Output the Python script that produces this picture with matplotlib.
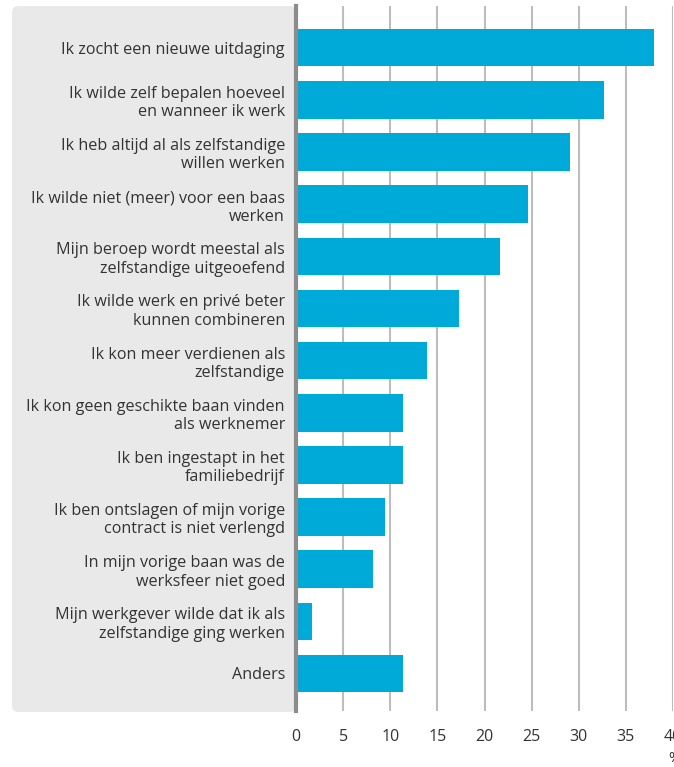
import matplotlib
matplotlib.use('Agg')
import matplotlib.pyplot as plt
from matplotlib.patches import FancyBboxPatch
import numpy as np

# redenen om zelfstandige te worden (%)
redenen = [
    "Ik zocht een nieuwe uitdaging",
    "Ik wilde zelf bepalen hoeveel\nen wanneer ik werk",
    "Ik heb altijd al als zelfstandige\nwillen werken",
    "Ik wilde niet (meer) voor een baas\nwerken",
    "Mijn beroep wordt meestal als\nzelfstandige uitgeoefend",
    "Ik wilde werk en privé beter\nkunnen combineren",
    "Ik kon meer verdienen als\nzelfstandige",
    "Ik kon geen geschikte baan vinden\nals werknemer",
    "Ik ben ingestapt in het\nfamiliebedrijf",
    "Ik ben ontslagen of mijn vorige\ncontract is niet verlengd",
    "In mijn vorige baan was de\nwerksfeer niet goed",
    "Mijn werkgever wilde dat ik als\nzelfstandige ging werken",
    "Anders",
]
waarden = [38.0, 32.7, 29.1, 24.6, 21.6, 17.3, 13.9, 11.4, 11.3, 9.4, 8.2, 1.7, 11.3]
ticks = [0, 5, 10, 15, 20, 25, 30, 35, 40]

plt.rcParams['font.family'] = ['Open Sans', 'DejaVu Sans']

fig = plt.figure(figsize=(6.74, 7.67), dpi=100)
W, H = 674, 767

# grijs vlak achter de labels
paneel = FancyBboxPatch((12 / W, 1 - 712 / H), (296 - 12) / W, (712 - 6) / H,
                        boxstyle="round,pad=0,rounding_size=0.009",
                        transform=fig.transFigure, facecolor='#e9e9e9',
                        edgecolor='none', zorder=-5)
fig.patches.append(paneel)

ax = fig.add_axes([296 / W, 1 - 711 / H, (673 - 296) / W, (711 - 6) / H])
ax.set_facecolor('white')

y = np.arange(len(redenen))
ax.barh(y, waarden, height=0.72, color='#00aad8', zorder=3)
ax.set_xlim(0, 40)
ax.set_ylim(12.72, -0.8)
ax.set_xticks(ticks)
ax.set_xticklabels([str(t) for t in ticks], fontsize=11.5, color='#333333')
ax.set_yticks(y)
ax.set_yticklabels(redenen, fontsize=11.6, color='#333333', linespacing=1.2)
ax.tick_params(axis='both', length=0)
ax.tick_params(axis='y', pad=8)
ax.tick_params(axis='x', pad=13)

ax.grid(axis='x', color='#bdbdbd', linewidth=1.5, zorder=1)
for s in ['top', 'right', 'bottom']:
    ax.spines[s].set_visible(False)
ax.spines['left'].set_color('#8c8c8c')
ax.spines['left'].set_linewidth(3)
ax.spines['left'].set_zorder(4)

fig.text(668 / W, 1 - 758 / H, '%', fontsize=11, color='#333333', va='center')

fig.savefig('out.png', dpi=100)
